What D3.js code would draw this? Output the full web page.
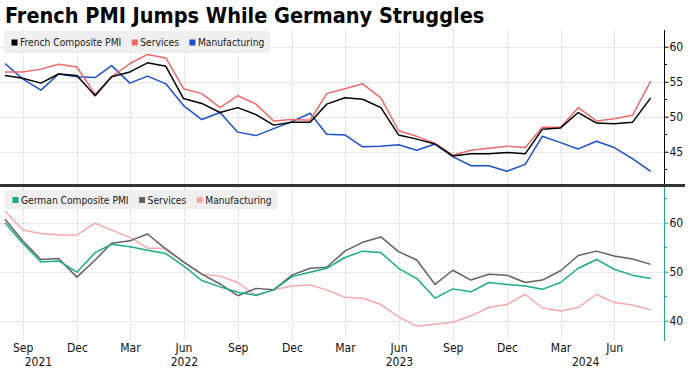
<!DOCTYPE html>
<html>
<head>
<meta charset="utf-8">
<script src="https://cdn.jsdelivr.net/npm/d3@7"></script>
<style>
  html, body { margin: 0; padding: 0; background: #fff; }
  svg { display: block; }
  text { font-family: "DejaVu Sans Condensed", "DejaVu Sans", sans-serif; }
</style>
</head>
<body>
<svg id="chart" width="698" height="369"></svg>
<script>
const title = "French PMI Jumps While Germany Struggles";
const startMonth = new Date(2021, 7, 1);   // Aug 2021
const endMonth = new Date(2024, 7, 1);     // Aug 2024

const frComposite = [55.9,55.5,54.8,56.1,55.9,53.0,55.7,56.4,57.7,57.2,52.6,51.9,50.6,51.3,50.3,48.8,49.2,49.2,51.8,52.7,52.5,51.3,47.4,46.8,46.1,44.4,44.7,44.7,44.9,44.7,48.2,48.4,50.6,49.1,49.0,49.2,52.7];
const frServices = [56.4,56.4,56.8,57.5,57.1,53.2,55.7,57.6,58.9,58.4,54.0,53.3,51.3,53.0,51.8,49.4,49.6,49.5,53.3,54.0,54.7,52.7,48.0,47.2,46.2,44.5,45.2,45.5,45.8,45.6,48.5,48.5,51.3,49.4,49.7,50.2,55.1];
const frManufacturing = [57.6,55.4,53.8,56.1,55.7,55.6,57.3,54.8,55.8,54.7,51.6,49.6,50.6,47.8,47.3,48.3,49.3,50.5,47.5,47.4,45.7,45.8,46.0,45.2,46.1,44.3,43.0,43.0,42.2,43.2,47.2,46.3,45.4,46.5,45.6,44.0,42.2];

const deComposite = [60.0,55.8,52.0,52.2,49.9,53.9,55.6,55.1,54.4,53.7,51.2,48.2,46.9,45.8,45.2,46.3,49.0,49.9,50.7,52.9,54.2,53.9,50.7,48.6,44.6,46.5,45.9,47.8,47.4,47.1,46.4,47.8,50.7,52.5,50.5,49.3,48.6];
const deServices = [60.7,56.3,52.5,52.7,48.9,52.4,55.8,56.3,57.7,54.6,52.0,49.5,47.5,45.1,46.6,46.3,49.3,50.7,50.9,54.2,56.0,57.1,54.1,52.4,47.4,50.3,48.3,49.5,49.3,47.8,48.3,50.2,53.3,54.2,53.2,52.6,51.5];
const deManufacturing = [62.4,58.5,57.8,57.5,57.5,59.9,58.5,57.0,54.8,54.8,52.0,49.5,49.1,47.8,45.1,46.3,47.1,47.3,46.3,44.8,44.6,43.3,40.8,38.9,39.3,39.7,41.0,42.7,43.3,45.4,42.6,42.0,42.7,45.4,43.7,43.2,42.2];

const topTicks = [60, 55, 50, 45];
const topMinorTicks = [57.5, 52.5, 47.5, 42.5];
const bottomTicks = [60, 50, 40];
const bottomMinorTicks = [65, 55, 45];
const tickMonthNames = ["Sep", "Dec", "Mar", "Jun"];
const yearLabels = [2021, 2022, 2023, 2024];

const topLegend = ["French Composite PMI", "Services", "Manufacturing"];
const bottomLegend = ["German Composite PMI", "Services", "Manufacturing"];
const topColors = ["#000000", "#ec6a6c", "#1f4fc6"];
const bottomColors = ["#1aaa8c", "#626262", "#f5a9a9"];
const teal = "#22a98d";

// month-end dates
const months = d3.timeMonth.range(startMonth, d3.timeMonth.offset(endMonth, 1));
const dates = months.map(m => d3.timeDay.offset(d3.timeMonth.offset(m, 1), -1));

const svg = d3.select("#chart");
const plotRight = 664.5;

const x = d3.scaleTime().domain([dates[0], dates[dates.length - 1]]).range([5, 650.7]);
const yTop = d3.scaleLinear().domain([40.39, 62.39]).range([184, 30]);
const yBot = d3.scaleLinear().domain([35.86, 67.29]).range([341, 187]);

// title
svg.append("text").attr("x", 5).attr("y", 23)
  .attr("font-size", 21.5).attr("font-weight", "bold")
  .style("font-family", "'DejaVu Sans Condensed', 'DejaVu Sans', sans-serif")
  .attr("fill", "#000").text(title);

const tickDates = dates.filter(d => tickMonthNames.includes(d3.timeFormat("%b")(d)));

function panel(y, y0, y1, ticks, minor, axisColor, series, colors, legendNames, legendBox) {
  const g = svg.append("g");
  // vertical grid
  g.selectAll(".vg").data(tickDates).join("line")
    .attr("x1", d => Math.round(x(d)) + 0.5).attr("x2", d => Math.round(x(d)) + 0.5)
    .attr("y1", y0).attr("y2", y1)
    .attr("stroke", "#d4d4d4").attr("stroke-width", 1).attr("stroke-dasharray", "1,1");
  // horizontal grid
  g.selectAll(".hg").data(ticks).join("line")
    .attr("x1", 0).attr("x2", plotRight)
    .attr("y1", d => Math.round(y(d)) + 0.5).attr("y2", d => Math.round(y(d)) + 0.5)
    .attr("stroke", "#d4d4d4").attr("stroke-width", 1).attr("stroke-dasharray", "1,1");
  // legend box
  const lg = g.append("g");
  const box = lg.append("rect").attr("x", legendBox[0]).attr("y", legendBox[1])
    .attr("height", legendBox[2]).attr("fill", "#efefef");
  let lx = legendBox[0] + 7.5;
  const baseY = legendBox[1] + legendBox[2] / 2 + 4;
  let endX = lx;
  legendNames.forEach((name, i) => {
    lg.append("rect").attr("x", lx).attr("y", baseY - 6.5).attr("width", 6).attr("height", 6).attr("fill", colors[i]);
    const t = lg.append("text").attr("x", lx + 8.5).attr("y", baseY)
      .attr("font-size", 10.2).attr("fill", "#222").text(name);
    endX = lx + 8.5 + t.node().getComputedTextLength();
    lx = endX + 10.5;
  });
  box.attr("width", endX + 6 - legendBox[0]);
  // lines (draw in reverse so first series on top)
  const line = d3.line().x((d, i) => x(dates[i])).y(d => y(d));
  for (let k = series.length - 1; k >= 0; k--) {
    g.append("path").datum(series[k]).attr("d", line)
      .attr("fill", "none").attr("stroke", colors[k]).attr("stroke-width", 1.5)
      .attr("stroke-linejoin", "round");
  }
  // right axis
  const axis = d3.axisRight(y).tickValues(ticks).tickSize(4).tickPadding(1).tickFormat(d3.format("d"));
  const ag = g.append("g").attr("transform", `translate(${plotRight},0)`).call(axis);
  ag.select(".domain").remove();
  ag.append("line").attr("x1", 0).attr("x2", 0).attr("y1", y0).attr("y2", y1).attr("stroke", axisColor);
  ag.selectAll(".tick line").attr("stroke", axisColor);
  ag.selectAll(".tick text").attr("font-size", 12).attr("fill", "#111")
    .style("font-family", "'DejaVu Sans Condensed', 'DejaVu Sans', sans-serif");
  ag.selectAll(".minor").data(minor).join("line").attr("class", "minor")
    .attr("x1", 0).attr("x2", 2.5)
    .attr("y1", d => Math.round(y(d)) + 0.5).attr("y2", d => Math.round(y(d)) + 0.5)
    .attr("stroke", axisColor);
}

panel(yTop, 30, 185, topTicks, topMinorTicks, "#000",
  [frComposite, frServices, frManufacturing], topColors, topLegend, [4, 31, 22]);
panel(yBot, 187, 341, bottomTicks, bottomMinorTicks, teal,
  [deComposite, deServices, deManufacturing], bottomColors, bottomLegend, [5, 190, 19]);

// separator
svg.append("line").attr("x1", 0).attr("x2", 685).attr("y1", 185.5).attr("y2", 185.5)
  .attr("stroke", "#333").attr("stroke-width", 3);

// bottom x axis labels
const xa = d3.axisBottom(x).tickValues(tickDates).tickSize(0).tickPadding(0)
  .tickFormat(d3.timeFormat("%b"));
const xg = svg.append("g").attr("transform", "translate(0,341)").call(xa);
xg.select(".domain").remove();
xg.selectAll(".tick text").attr("font-size", 12).attr("fill", "#111").attr("dy", 0).attr("y", 11);

// year labels centered on year span
yearLabels.forEach(yr => {
  const a = Math.max(0, x(new Date(yr - 1, 11, 31)));
  const b = Math.min(plotRight, x(new Date(yr, 11, 31)));
  svg.append("text").attr("x", (a + b) / 2).attr("y", 366).attr("text-anchor", "middle")
    .attr("font-size", 12).attr("fill", "#111").text(yr);
});
</script>
</body>
</html>
